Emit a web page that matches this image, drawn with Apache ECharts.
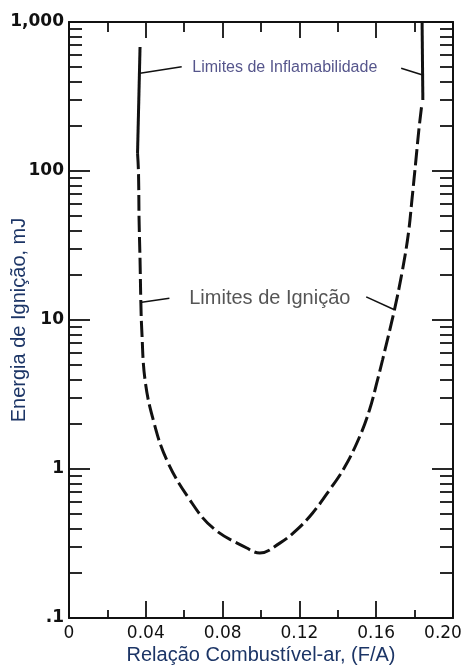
<!DOCTYPE html>
<html>
<head>
<meta charset="utf-8">
<script src="https://cdn.jsdelivr.net/npm/echarts@6/dist/echarts.min.js"></script>
<style>html,body{margin:0;padding:0;background:#fff}#c{width:467px;height:666px}</style>
</head>
<body>
<div id="c"></div>
<script>
// ---- data ----
const xTickValues = [0, 0.04, 0.08, 0.12, 0.16, 0.20];
const xTickLabels = ['0', '0.04', '0.08', '0.12', '0.16', '0.20'];
const yMajorValues = [0.1, 1, 10, 100, 1000];
const yTickLabels = ['.1', '1', '10', '100', '1,000'];
const yMinorValues = [0.2,0.3,0.4,0.5,0.6,0.7,0.8,0.9, 2,3,4,5,6,7,8,9, 20,30,40,50,60,70,80,90, 200,300,400,500,600,700,800,900];

// Ignition limits (dashed U curve): F/A ratio and energy (mJ)
const ignX = [0.0357,0.0362,0.0365,0.0370,0.0374,0.0379,0.0396,0.0439,0.0509,0.0630,0.0750,0.0926,0.0994,0.1098,0.1186,0.1269,0.1357,0.1436,0.1513,0.1565,0.1607,0.1633,0.1695,0.1737,0.1768,0.1786,0.1807,0.1822,0.1838];
const ignY = [132,97,46.9,25.3,13.6,8.57,3.96,2.13,1.15,0.619,0.402,0.295,0.273,0.318,0.390,0.507,0.723,1.03,1.64,2.49,3.96,5.39,11.7,21.7,38.4,63.8,119,188,282];

// Flammability limits (solid vertical segments)
const flamLeftX = [0.0370, 0.0357];
const flamLeftY = [680, 132];
const flamRightX = [0.1839, 0.1843];
const flamRightY = [1000, 300];

// Annotations
const annInflText = 'Limites de Inflamabilidade';
const annInflPos = [0.1124, 491];
const annInflArrows = [[[0.0587, 501], [0.0370, 453]], [[0.1730, 489], [0.1842, 441]]];
const annIgnText = 'Limites de Ignição';
const annIgnPos = [0.1046, 14.05];
const annIgnArrows = [[[0.0523, 14.0], [0.0370, 13.1]], [[0.1548, 14.3], [0.1695, 11.7]]];

const xTitle = 'Relação Combustível-ar, (F/A)';
const yTitle = 'Energia de Ignição, mJ';

// ---- chart ----
const zip = (a, b) => a.map((v, i) => [v, b[i]]);
const ink = '#111';
const chart = echarts.init(document.getElementById('c'), null, {renderer: 'canvas'});

function xAx(pos, showLabel, majLen, minLen) {
  return {
    type: 'value', position: pos, min: 0, max: 0.2, interval: 0.04,
    name: showLabel ? xTitle : '', nameLocation: 'middle', nameGap: 27, nameMoveOverlap: false,
    nameTextStyle: {fontFamily: 'Liberation Sans', fontSize: 20, color: '#1c3566'},
    axisLine: {show: true, onZero: false, lineStyle: {color: ink, width: 2}},
    axisTick: {show: true, inside: true, length: majLen, lineStyle: {color: ink, width: 1.8}},
    minorTick: {show: true, splitNumber: 2, length: minLen, lineStyle: {color: ink, width: 1.8}},
    axisLabel: {show: showLabel, margin: 7, fontFamily: 'DejaVu Sans', fontSize: 17, color: '#111',
      rich: {last: {fontFamily: 'DejaVu Sans', fontSize: 17, color: '#111', padding: [0, 20, 0, 0]}},
      formatter: v => {
        const i = xTickValues.findIndex(t => Math.abs(t - v) < 1e-9);
        if (i < 0) return '';
        return i === xTickValues.length - 1 ? '{last|' + xTickLabels[i] + '}' : xTickLabels[i];
      }},
    splitLine: {show: false}, minorSplitLine: {show: false}
  };
}
function yAx(pos, showLabel, values, len, lineShow) {
  return {
    type: 'log', logBase: 10, position: pos, min: 0.1, max: 1000,
    name: showLabel ? yTitle : '', nameLocation: 'middle', nameGap: 40, nameRotate: 90, nameMoveOverlap: false,
    nameTextStyle: {fontFamily: 'Liberation Sans', fontSize: 20, color: '#1c3566'},
    axisLine: {show: lineShow, onZero: false, lineStyle: {color: ink, width: 2}},
    axisTick: {show: true, inside: true, length: len, customValues: values, lineStyle: {color: ink, width: 1.8}},
    axisLabel: {show: showLabel, margin: 5, fontFamily: 'DejaVu Sans', fontWeight: 'bold', fontSize: 17, color: '#111',
      customValues: showLabel ? yMajorValues : undefined,
      formatter: v => { const i = yMajorValues.findIndex(t => Math.abs(Math.log10(t) - Math.log10(v)) < 1e-6); return i >= 0 ? yTickLabels[i] : ''; }},
    splitLine: {show: false}
  };
}

const arrowML = (arrows, color) => ({
  silent: true, symbol: ['none', 'arrow'], symbolSize: [0, 7],
  label: {show: false},
  lineStyle: {type: 'solid', width: 1.6, color: color},
  data: arrows.map(a => [{coord: a[0]}, {coord: a[1]}])
});

chart.setOption({
  animation: false,
  backgroundColor: '#fff',
  grid: {left: 69, right: 14, top: 22, bottom: 48, containLabel: false, outerBoundsMode: 'none'},
  xAxis: [xAx('bottom', true, 17, 8), xAx('top', false, 16, 10)],
  yAxis: [
    yAx('left', true, yMajorValues, 21, true),
    yAx('left', false, yMinorValues, 13, false),
    yAx('right', false, yMajorValues, 21, true),
    yAx('right', false, yMinorValues, 13, false)
  ],
  series: [
    {type: 'line', name: 'Limites de Ignição', data: zip(ignX, ignY), showSymbol: false, smooth: 0.4,
     lineStyle: {color: ink, width: 3, type: [16, 5]}, z: 3,
     markLine: arrowML(annIgnArrows, ink)},
    {type: 'line', name: 'Limites de Inflamabilidade (esq.)', data: zip(flamLeftX, flamLeftY), showSymbol: false,
     lineStyle: {color: ink, width: 3}, z: 3,
     markLine: arrowML(annInflArrows, ink)},
    {type: 'line', name: 'Limites de Inflamabilidade (dir.)', data: zip(flamRightX, flamRightY), showSymbol: false,
     lineStyle: {color: ink, width: 3}, z: 3},
    {type: 'scatter', symbolSize: 0, z: 5, silent: true,
     data: [
       {value: annInflPos, label: {formatter: annInflText, fontSize: 16, color: '#2b2b6e'}},
       {value: annIgnPos, label: {formatter: annIgnText, fontSize: 20, color: '#2a2a2a'}}
     ],
     label: {show: true, position: 'inside', fontFamily: 'Liberation Sans'}}
  ]
});
</script>
</body>
</html>
